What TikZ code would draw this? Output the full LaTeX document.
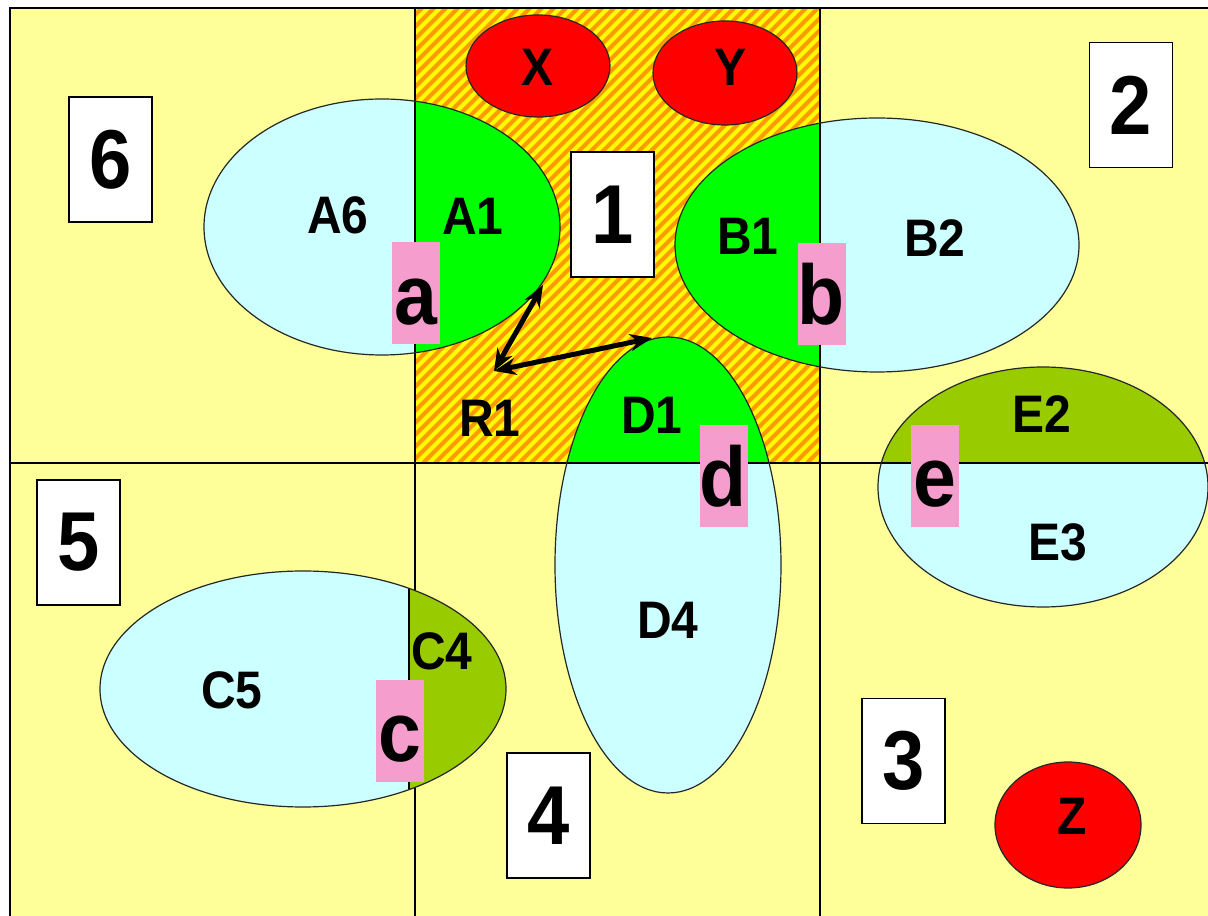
\documentclass[tikz,border=0pt]{standalone}
\usepackage{fontspec}
\setmainfont{Liberation Sans}
\usepackage{graphicx}
\usepackage{tikz}
\usetikzlibrary{arrows.meta}

\definecolor{bgyellow}{RGB}{255,255,153}
\definecolor{skycyan}{RGB}{204,255,255}
\definecolor{leafgreen}{RGB}{0,255,0}
\definecolor{mossgreen}{RGB}{153,204,0}
\definecolor{hatchyellow}{RGB}{255,255,0}
\definecolor{hatchorange}{RGB}{255,153,0}
\definecolor{tagpink}{RGB}{245,158,205}
\definecolor{dotred}{RGB}{255,0,0}

\newcommand{\tall}[1]{\scalebox{1}[1.1]{#1}}

\tikzset{
	numbox/.style={draw=black, fill=white, line width=1.2pt, minimum width=83pt, minimum height=125pt, inner sep=0pt, font=\fontsize{76}{76}\selectfont\bfseries},
	pinkbox/.style={fill=tagpink, inner sep=0pt, minimum width=48pt, text height=82pt, text depth=20pt, font=\fontsize{77}{77}\selectfont\bfseries},
	part/.style={inner sep=0pt, font=\fontsize{48}{48}\selectfont\bfseries},
	outline/.style={draw=black!85, line width=1.2pt},
	dblarrow/.style={line width=5pt, >={Stealth[length=22pt,width=17pt]}, <->}
}

\begin{document}
\begin{tikzpicture}[x=1pt, y=1pt]
			\useasboundingbox (0,0) rectangle (1208,916);
			\clip (0,0) rectangle (1208,916);
			\fill[white] (0,0) rectangle (1208,916);
			\fill[bgyellow] (10,0) rectangle (1210,908);
			\begin{scope}
				\clip (415,453) rectangle (820,908);
				\fill[hatchyellow] (415,453) rectangle (820,908);
				\foreach \k in {0,...,75}
				\draw[hatchorange, line width=4pt] (-45+12*\k,453) -- ++(460,460);
			\end{scope}
			\draw[line width=1.4pt] (415,0) -- (415,908);
			\draw[line width=1.4pt] (820,0) -- (820,908);
			\draw[line width=1.4pt] (10,453) -- (1210,453);
			\draw[line width=1.6pt] (10,0) -- (10,908) -- (1210,908);
			\begin{scope}
				\clip (382,689) ellipse (178pt and 128pt);
				\fill[skycyan] (0,0) rectangle (415,916);
				\fill[leafgreen] (415,0) rectangle (1208,916);
				\draw[line width=1.4pt] (415,0) -- (415,916);
			\end{scope}
			\draw[outline] (382,689) ellipse (178pt and 128pt);
			\begin{scope}
				\clip (877,671) ellipse (202pt and 127pt);
				\fill[leafgreen] (0,0) rectangle (820,916);
				\fill[skycyan] (820,0) rectangle (1208,916);
				\draw[line width=1.4pt] (820,0) -- (820,916);
			\end{scope}
			\draw[outline] (877,671) ellipse (202pt and 127pt);
			\begin{scope}
				\clip (668,351) ellipse (113pt and 228pt);
				\fill[leafgreen] (0,453) rectangle (1208,916);
				\fill[skycyan] (0,0) rectangle (1208,453);
				\draw[line width=1.4pt] (0,453) -- (1208,453);
			\end{scope}
			\draw[outline] (668,351) ellipse (113pt and 228pt);
			\begin{scope}
				\clip (1043,429) ellipse (165pt and 120pt);
				\fill[mossgreen] (0,453) rectangle (1208,916);
				\fill[skycyan] (0,0) rectangle (1208,453);
				\draw[line width=1.4pt] (0,453) -- (1208,453);
			\end{scope}
			\draw[outline] (1043,429) ellipse (165pt and 120pt);
			\begin{scope}
				\clip (303,227) ellipse (203pt and 118pt);
				\fill[skycyan] (0,0) rectangle (409,916);
				\fill[mossgreen] (409,0) rectangle (1208,916);
				\draw[line width=1.4pt] (409,0) -- (409,916);
			\end{scope}
			\draw[outline] (303,227) ellipse (203pt and 118pt);
			\foreach \cx / \cy / \rx / \ry in { 538 / 850 / 72 / 51, 725 / 843 / 72 / 52, 1068 / 91 / 73 / 63 }
			\draw[outline, fill=dotred] (\cx,\cy) ellipse (\rx pt and \ry pt);
			\node[numbox] (num6) at (110.5,756.5) {\tall{6}};
			\node[numbox] (num1) at (612.5,701.5) {\tall{1}};
			\node[numbox] (num2) at (1131,811) {\tall{2}};
			\node[numbox] (num5) at (78.5,373.5) {\tall{5}};
			\node[numbox] (num4) at (548.5,100.5) {\tall{4}};
			\node[numbox] (num3) at (903.5,155) {\tall{3}};
			\node[pinkbox] (taga) at (416,622.5) {\tall{a}};
			\node[pinkbox] (tagb) at (821.5,622) {\tall{b}};
			\node[pinkbox] (tagc) at (400,185) {\tall{c}};
			\node[pinkbox] (tagd) at (723.5,440) {\tall{d}};
			\node[pinkbox] (tage) at (935,440) {\tall{e}};
			\node[part] (partA6) at (338,701) {\tall{A6}};
			\node[part] (partA1) at (473,700) {\tall{A1}};
			\node[part] (partB1) at (748,680) {\tall{B1}};
			\node[part] (partB2) at (935,678) {\tall{B2}};
			\node[part] (partR1) at (490,498) {\tall{R1}};
			\node[part] (partD1) at (652,501) {\tall{D1}};
			\node[part] (partE2) at (1042,502) {\tall{E2}};
			\node[part] (partE3) at (1058,374) {\tall{E3}};
			\node[part] (partD4) at (668,296) {\tall{D4}};
			\node[part] (partC5) at (232,226) {\tall{C5}};
			\node[part] (partC4) at (442,265) {\tall{C4}};
			\node[part] (partX) at (538,849) {\tall{X}};
			\node[part] (partY) at (731,849) {\tall{Y}};
			\node[part] (partZ) at (1072,100) {\tall{Z}};
			\coordinate (r1tip) at (494,545);
			\coordinate (a1tip) at (543,631);
			\coordinate (d1tip) at (652,578);
			\draw[dblarrow] (r1tip) -- (a1tip);
			\draw[dblarrow] (r1tip) -- (d1tip);
	\end{tikzpicture}
\end{document}
